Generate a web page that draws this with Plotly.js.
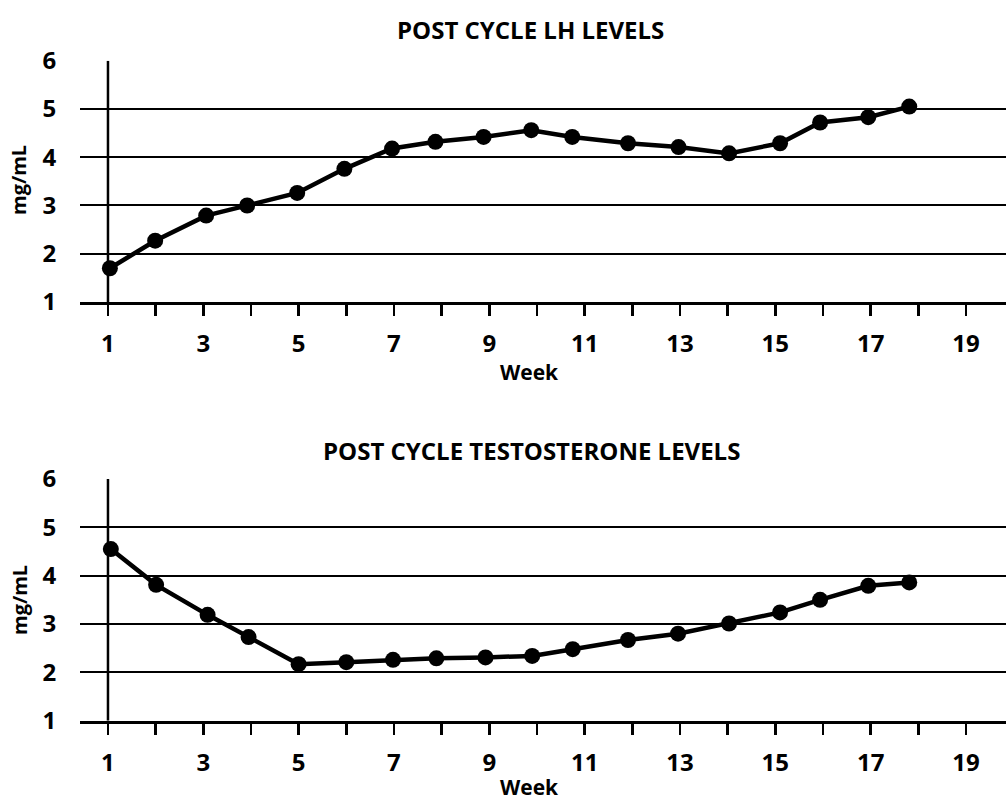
<!DOCTYPE html>
<html>
<head>
<meta charset="utf-8">
<script src="https://cdn.plot.ly/plotly-3.0.1.min.js"></script>
<style>html,body{margin:0;padding:0;background:#fff;}#chart{width:1006px;height:800px;}</style>
</head>
<body>
<div id="chart"></div>
<script>
// ---- data ----
const weeksLH = [1.04, 1.99, 3.06, 3.92, 4.97, 5.96, 6.96, 7.87, 8.88, 9.88, 10.74, 11.91, 12.97, 14.03, 15.10, 15.94, 16.95, 17.81];
const lhLevels = [1.70, 2.27, 2.79, 3.00, 3.26, 3.76, 4.18, 4.32, 4.42, 4.56, 4.42, 4.29, 4.21, 4.08, 4.29, 4.72, 4.83, 5.05];
const weeksT = [1.06, 2.01, 3.09, 3.95, 5.00, 6.00, 6.98, 7.89, 8.92, 9.90, 10.75, 11.91, 12.96, 14.03, 15.10, 15.94, 16.95, 17.81];
const testosteroneLevels = [4.55, 3.81, 3.19, 2.73, 2.17, 2.21, 2.26, 2.29, 2.31, 2.34, 2.48, 2.67, 2.80, 3.01, 3.24, 3.50, 3.79, 3.86];
const weekTicks = [1,2,3,4,5,6,7,8,9,10,11,12,13,14,15,16,17,18,19];
const weekTickText = ['1','','3','','5','','7','','9','','11','','13','','15','','17','','19'];
const yTicks = [1,2,3,4,5,6];
const titleLH = 'POST CYCLE LH LEVELS';
const titleT = 'POST CYCLE TESTOSTERONE LEVELS';
const xTitle = 'Week';
const yTitle = 'mg/mL';

const FONT = 'Open Sans, Lato, sans-serif';
const xRange = [0.413, 19.84];
const L = 80, PW = 1006 - 80, H = 800;
const px = (x) => (x - L) / PW;
const py = (y) => 1 - y / H;

const lineStyle = {color: '#000', width: 4.5};
const markerStyle = {color: '#000', size: 16};

const traces = [
  {x: weeksLH, y: lhLevels, xaxis: 'x', yaxis: 'y', mode: 'lines+markers', line: lineStyle, marker: markerStyle, cliponaxis: false, showlegend: false},
  {x: weeksT, y: testosteroneLevels, xaxis: 'x2', yaxis: 'y2', mode: 'lines+markers', line: lineStyle, marker: markerStyle, cliponaxis: false, showlegend: false}
];

function mainX(anchor) {
  return {
    anchor: anchor, range: xRange, domain: [0, 1],
    showgrid: false, zeroline: false,
    showline: true, linecolor: '#000', linewidth: 3,
    ticks: 'outside', ticklen: 11, tickwidth: 2.5, tickcolor: '#000',
    tickmode: 'array', tickvals: weekTicks, ticktext: weekTickText,
    ticklabelstandoff: 7,
    tickfont: {family: FONT, size: 24, color: '#000', weight: 700},
    fixedrange: true
  };
}
function innerX(overlay, anchor) {
  return {
    overlaying: overlay, anchor: anchor, range: xRange,
    showgrid: false, zeroline: false, showline: false,
    ticks: 'inside', ticklen: 6, tickwidth: 2.5, tickcolor: '#000',
    tickmode: 'array', tickvals: weekTicks, showticklabels: false,
    fixedrange: true
  };
}
function mainY(anchor, domain) {
  return {
    anchor: anchor, domain: domain, range: [1, 6],
    tickmode: 'array', tickvals: yTicks,
    showgrid: true, gridcolor: '#000', gridwidth: 2,
    zeroline: false, showline: false,
    ticks: 'outside', ticklen: 18, tickcolor: 'rgba(0,0,0,0)',
    tickfont: {family: FONT, size: 24, color: '#000', weight: 700},
    fixedrange: true
  };
}

const ann = (text, x, y, size, angle) => ({
  text: text, xref: 'paper', yref: 'paper', x: x, y: y,
  xanchor: 'center', yanchor: 'middle', showarrow: false, textangle: angle || 0,
  font: {family: FONT, size: size, color: '#000', weight: 700}
});

const layout = {
  width: 1006, height: 800,
  margin: {l: L, r: 0, t: 0, b: 0, pad: 0},
  paper_bgcolor: '#fff', plot_bgcolor: '#fff',
  showlegend: false,
  xaxis: mainX('y'),
  xaxis2: mainX('y2'),
  xaxis3: innerX('x', 'y'),
  xaxis4: innerX('x2', 'y2'),
  yaxis: mainY('x', [0.6225, 0.9241]),
  yaxis2: mainY('x2', [0.0991, 0.4013]),
  shapes: [
    {type: 'line', xref: 'x', yref: 'y', x0: 1, x1: 1, y0: 1, y1: 6, line: {color: '#000', width: 2.5}},
    {type: 'line', xref: 'x2', yref: 'y2', x0: 1, x1: 1, y0: 1, y1: 6, line: {color: '#000', width: 2.5}}
  ],
  annotations: [
    ann(titleLH, px(530), py(30), 24),
    ann(titleT, px(531), py(450), 24),
    ann(xTitle, px(529), py(372), 21),
    ann(xTitle, px(529), py(787), 21),
    ann(yTitle, px(19), py(180), 20, -90),
    ann(yTitle, px(19), py(600), 20, -90)
  ]
};

Plotly.newPlot('chart', traces, layout, {displayModeBar: false, staticPlot: true});
</script>
</body>
</html>
